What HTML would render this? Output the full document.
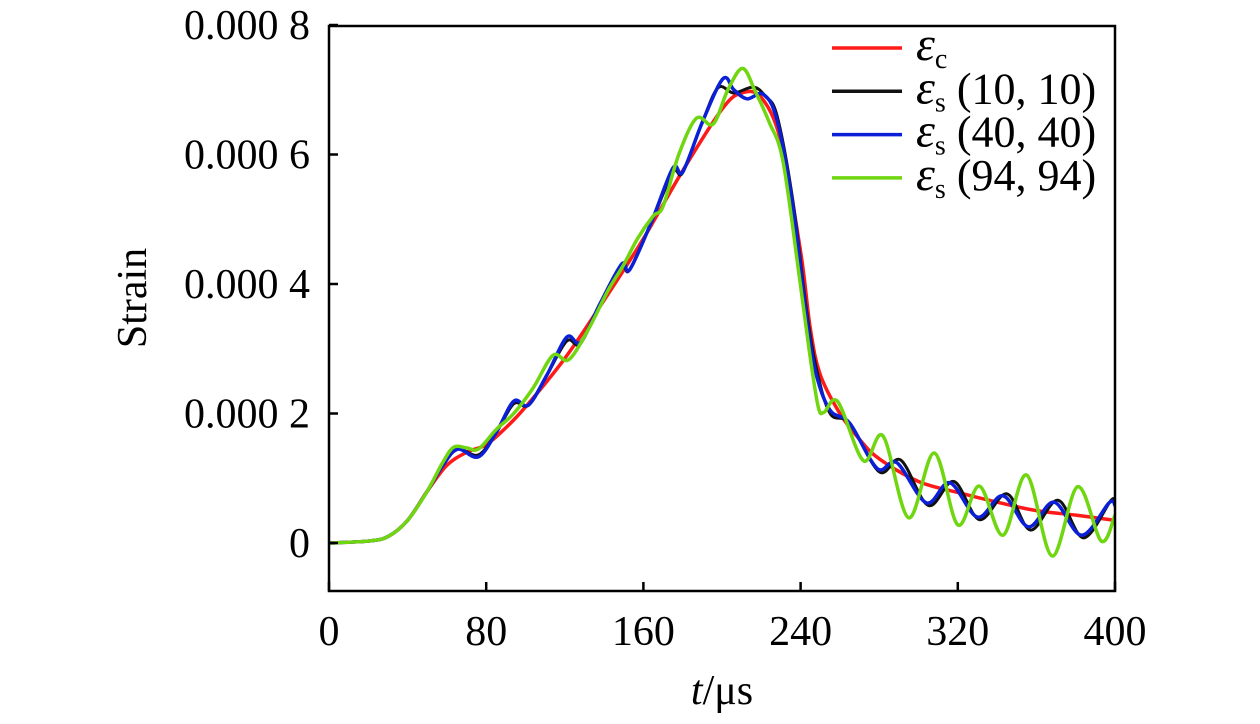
<!DOCTYPE html>
<html><head><meta charset="utf-8"><style>
body{margin:0;background:#fff}
svg{display:block;font-family:"Liberation Serif",serif}
</style></head><body>
<svg id="chart" width="1260" height="724" xmlns="http://www.w3.org/2000/svg">
<defs><clipPath id="pc"><rect x="329" y="26" width="786" height="565"/></clipPath></defs>
<g id="series" clip-path="url(#pc)"></g>
<rect x="329" y="26" width="786" height="565" fill="none" stroke="#000" stroke-width="2.5"/>
<g id="axes"></g>
<text x="722" y="704" font-size="42" text-anchor="middle"><tspan font-style="italic">t</tspan>/μs</text>
<text transform="translate(146,298) rotate(-90)" font-size="42" text-anchor="middle">Strain</text>
<g id="legend"></g>
</svg>
<script>
const xTicks=[0,80,160,240,320,400];
const yTicks=[0,2,4,6,8];
const yTickLabels=["0","0.000 2","0.000 4","0.000 6","0.000 8"];
const tC=[0,20,30,40,50,60,70,80,90,100,120,140,160,180,200,210,220,230,240,245,250,260,270,280,300,320,340,360,380,400];
const vC=[0,0.03,0.1,0.35,0.8,1.2,1.4,1.52,1.78,2.1,2.85,3.75,4.7,5.75,6.7,6.95,6.88,6.2,4.5,3.3,2.6,2.0,1.6,1.3,0.95,0.78,0.63,0.5,0.43,0.35];
const tB=[0,20,30,40,50,58,65.5,76,85,94,101.5,111,121,128,138,149,153,164,175,180,190,200.5,206,212.7,221,228,236,243,248,255,265,279,289,304,316,330,343,356,369,383,397,400];
const vB=[0,0.03,0.1,0.35,0.8,1.2,1.45,1.33,1.7,2.19,2.13,2.6,3.18,3.1,3.7,4.31,4.22,4.95,5.79,5.73,6.5,7.17,7.0,6.86,6.93,6.53,5.22,3.5,2.6,2.05,1.85,1.15,1.24,0.62,0.93,0.4,0.73,0.25,0.63,0.12,0.62,0.58];
const tK=[0,20,30,40,50,58,65.5,76,85,94,101.5,111,121,128,138,149,153,164,175,180,190,198,206,216,222,228,236,243,248,255,265,280,291,305,318,331,345,357,371,384,398,400];
const vK=[0,0.03,0.1,0.35,0.8,1.2,1.45,1.36,1.7,2.15,2.13,2.6,3.12,3.08,3.7,4.25,4.22,4.95,5.72,5.72,6.5,7.03,6.95,7.04,6.9,6.6,5.3,3.6,2.7,2.0,1.85,1.1,1.28,0.58,0.95,0.36,0.76,0.2,0.66,0.08,0.66,0.6];
const tG=[0,20,30,40,50,58,63.5,70,76,85,94,104,114,122,132,142,150,157,165,170,178,187,195.5,203,210.5,217,224,231,239.5,244.6,249,252,259,272,282,295,308,320,331,343,355,368,381,393,400];
const vG=[0,0.03,0.1,0.35,0.8,1.25,1.48,1.47,1.45,1.75,2.0,2.4,2.9,2.83,3.3,3.9,4.3,4.7,5.05,5.2,6.0,6.56,6.47,7.0,7.33,6.97,6.5,5.9,4.08,2.93,2.1,2.02,2.18,1.27,1.65,0.39,1.39,0.28,0.88,0.12,1.05,-0.2,0.87,0.03,0.43];
const seriesColors=["#ff1a1a","#111111","#0a1fd6","#6fd60f"];
const seriesNames=["series-ec","series-es-10","series-es-40","series-es-94"];
const X=t=>329+t*(786/400);
const Y=v=>543-v*(518/8);
const NS="http://www.w3.org/2000/svg";
function pathD(ts,vs){
  const p=ts.map((t,i)=>[X(t),Y(vs[i])]);
  let d="M"+p[0][0]+","+p[0][1];
  for(let i=0;i<p.length-1;i++){
    const p0=p[Math.max(0,i-1)],p1=p[i],p2=p[i+1],p3=p[Math.min(p.length-1,i+2)];
    const c1=[p1[0]+(p2[0]-p0[0])/6,p1[1]+(p2[1]-p0[1])/6];
    const c2=[p2[0]-(p3[0]-p1[0])/6,p2[1]-(p3[1]-p1[1])/6];
    d+=` C${c1[0]},${c1[1]} ${c2[0]},${c2[1]} ${p2[0]},${p2[1]}`;
  }
  return d;
}
const sg=document.getElementById("series");
[[tC,vC],[tK,vK],[tB,vB],[tG,vG]].forEach((s,i)=>{
  const el=document.createElementNS(NS,"path");
  el.setAttribute("d",pathD(s[0],s[1]));
  el.setAttribute("fill","none");
  el.setAttribute("stroke",seriesColors[i]);
  el.setAttribute("stroke-width",i==1?"3":"3.5");
  
  
  sg.appendChild(el);
});
const ax=document.getElementById("axes");
xTicks.forEach(t=>{
  const l=document.createElementNS(NS,"line");
  l.setAttribute("x1",X(t));l.setAttribute("x2",X(t));l.setAttribute("y1",591);l.setAttribute("y2",582);
  l.setAttribute("stroke","#000");l.setAttribute("stroke-width","2.5");
  
  
  ax.appendChild(l);
  const tx=document.createElementNS(NS,"text");
  tx.setAttribute("x",X(t));tx.setAttribute("y",645);tx.setAttribute("font-size","42");tx.setAttribute("text-anchor","middle");
  tx.textContent=t;
  
  
  ax.appendChild(tx);
});
yTicks.forEach((v,i)=>{
  const l=document.createElementNS(NS,"line");
  l.setAttribute("x1",329);l.setAttribute("x2",338);l.setAttribute("y1",Y(v));l.setAttribute("y2",Y(v));
  l.setAttribute("stroke","#000");l.setAttribute("stroke-width","2.5");
  
  
  ax.appendChild(l);
  const tx=document.createElementNS(NS,"text");
  tx.setAttribute("x",310);tx.setAttribute("y",Y(v)+14);tx.setAttribute("font-size","42");tx.setAttribute("text-anchor","end");
  tx.textContent=yTickLabels[i];
  
  
  ax.appendChild(tx);
});
const legendSubs=["c","s","s","s"];
const legendTexts=[""," (10, 10)"," (40, 40)"," (94, 94)"];
const lg=document.getElementById("legend");
legendSubs.forEach((s,i)=>{
  const y=48+i*43.3;
  const g=document.createElementNS(NS,"g");
  
  
  const l=document.createElementNS(NS,"line");
  l.setAttribute("x1",832);l.setAttribute("x2",902);l.setAttribute("y1",y);l.setAttribute("y2",y);
  l.setAttribute("stroke",seriesColors[i]);l.setAttribute("stroke-width","3.5");
  g.appendChild(l);
  const tx=document.createElementNS(NS,"text");
  tx.setAttribute("x",916);tx.setAttribute("y",y+12);tx.setAttribute("font-size","44");
  tx.innerHTML=`<tspan font-style="italic" font-size="48">ε</tspan><tspan font-size="28" dy="8">${s}</tspan><tspan dy="-8">${legendTexts[i]}</tspan>`;
  g.appendChild(tx);
  lg.appendChild(g);
});
</script>
</body></html>
